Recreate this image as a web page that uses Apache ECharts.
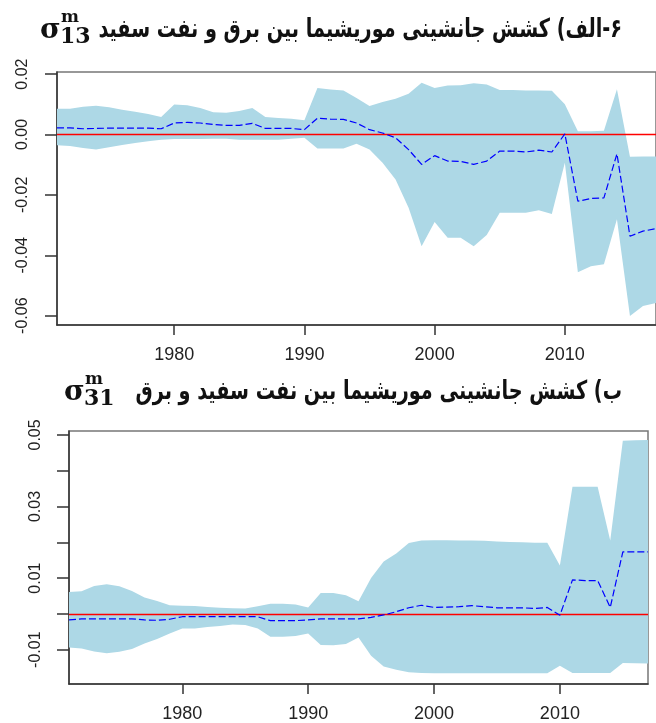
<!DOCTYPE html>
<html>
<head>
<meta charset="utf-8">
<script src="https://cdn.jsdelivr.net/npm/echarts@6/dist/echarts.min.js"></script>
<style>
html,body{margin:0;padding:0;background:#fff;}
#chart{width:656px;height:723px;}
</style>
</head>
<body>
<div id="chart"></div>
<script>
const years = [1971,1972,1973,1974,1975,1976,1977,1978,1979,1980,
  1981,1982,1983,1984,1985,1986,1987,1988,1989,1990,
  1991,1992,1993,1994,1995,1996,1997,1998,1999,2000,
  2001,2002,2003,2004,2005,2006,2007,2008,2009,2010,
  2011,2012,2013,2014,2015,2016,2017];

// Panel A: sigma13 (electricity vs kerosene)
const topUpper = [0.0085,0.0085,0.0092,0.0095,0.0090,0.0082,0.0075,0.0068,0.0058,0.0099,
  0.0097,0.0088,0.0074,0.0072,0.0078,0.0088,0.0058,0.0055,0.0052,0.0047,
  0.0154,0.0149,0.0146,0.0121,0.0094,0.0108,0.0118,0.0135,0.0171,0.0154,
  0.0162,0.0163,0.0170,0.0166,0.0147,0.0147,0.0146,0.0146,0.0145,0.0100,
  0.0011,0.0011,0.0012,0.0150,-0.0074,-0.0073,-0.0073];
const topMid = [0.0022,0.0022,0.0019,0.0020,0.0021,0.0021,0.0021,0.0021,0.0019,0.0038,
  0.0040,0.0038,0.0033,0.0030,0.0030,0.0037,0.0020,0.0020,0.0020,0.0016,
  0.0054,0.0051,0.0050,0.0038,0.0016,0.0005,-0.0011,-0.0050,-0.0099,-0.0070,
  -0.0088,-0.0089,-0.0099,-0.0088,-0.0055,-0.0055,-0.0058,-0.0052,-0.0058,0.0002,
  -0.0221,-0.0212,-0.0210,-0.0064,-0.0337,-0.0320,-0.0312];
const topLower = [-0.0036,-0.0038,-0.0045,-0.0050,-0.0042,-0.0035,-0.0028,-0.0022,-0.0017,-0.0015,
  -0.0015,-0.0015,-0.0014,-0.0014,-0.0017,-0.0017,-0.0017,-0.0017,-0.0014,-0.0011,
  -0.0046,-0.0046,-0.0046,-0.0031,-0.0050,-0.0094,-0.0149,-0.0243,-0.0370,-0.0290,
  -0.0342,-0.0342,-0.0370,-0.0333,-0.0259,-0.0259,-0.0259,-0.0251,-0.0263,-0.0094,
  -0.0456,-0.0436,-0.0430,-0.0281,-0.0601,-0.0568,-0.0558];

// Panel B: sigma31 (kerosene vs electricity)
const botUpper = [0.0061,0.0063,0.0078,0.0083,0.0077,0.0064,0.0046,0.0036,0.0024,0.0023,
  0.0022,0.0019,0.0017,0.0016,0.0015,0.0021,0.0028,0.0028,0.0026,0.0018,
  0.0058,0.0058,0.0052,0.0035,0.0100,0.0146,0.0169,0.0198,0.0205,0.0206,
  0.0206,0.0205,0.0205,0.0204,0.0202,0.0201,0.0200,0.0199,0.0199,0.0135,
  0.0355,0.0355,0.0355,0.0205,0.0484,0.0485,0.0486];
const botMid = [-0.0017,-0.0014,-0.0014,-0.0014,-0.0014,-0.0014,-0.0017,-0.0018,-0.0015,-0.0008,
  -0.0008,-0.0008,-0.0008,-0.0008,-0.0008,-0.0008,-0.0019,-0.0019,-0.0019,-0.0017,
  -0.0014,-0.0014,-0.0014,-0.0014,-0.0010,-0.0003,0.0006,0.0017,0.0024,0.0018,
  0.0019,0.0020,0.0023,0.0020,0.0017,0.0017,0.0017,0.0015,0.0018,-0.0004,
  0.0095,0.0093,0.0093,0.0018,0.0173,0.0173,0.0173];
const botLower = [-0.0094,-0.0097,-0.0105,-0.0110,-0.0106,-0.0098,-0.0083,-0.0070,-0.0055,-0.0041,
  -0.0041,-0.0037,-0.0034,-0.0030,-0.0031,-0.0041,-0.0064,-0.0064,-0.0062,-0.0055,
  -0.0087,-0.0088,-0.0084,-0.0066,-0.0117,-0.0147,-0.0156,-0.0163,-0.0165,-0.0166,
  -0.0166,-0.0166,-0.0166,-0.0166,-0.0166,-0.0166,-0.0166,-0.0166,-0.0166,-0.0145,
  -0.0165,-0.0165,-0.0165,-0.0165,-0.0137,-0.0138,-0.0139];

const xTicks = [1980, 1990, 2000, 2010];
const topYTicks = [-0.06, -0.04, -0.02, 0.00, 0.02];
const topYLabels = [-0.06, -0.04, -0.02, 0.00, 0.02];
const botYTicks = [-0.01, 0.00, 0.01, 0.02, 0.03, 0.04, 0.05];
const botYLabels = [-0.01, 0.01, 0.03, 0.05];

const titleA = '\u202B۶-الف) کشش جانشینی موریشیما بین برق و نفت سفید\u202C';
const titleB = '\u202Bب) کشش جانشینی موریشیما بین نفت سفید و برق\u202C';
const symA = ['σ', 'm', '13'];
const symB = ['σ', 'm', '31'];

const chart = echarts.init(document.getElementById('chart'), null, {renderer: 'canvas'});

function band(xi, up, lo) {
  return {
    type: 'custom', xAxisIndex: xi, yAxisIndex: xi, clip: true, silent: true, z: 1,
    data: years.map((y, i) => [y, up[i], lo[i]]),
    encode: {x: 0, y: [1, 2]},
    renderItem: function (params, api) {
      if (params.dataIndex !== 0) return null;
      const pts = [];
      for (let i = 0; i < years.length; i++) pts.push(api.coord([years[i], up[i]]));
      for (let i = years.length - 1; i >= 0; i--) pts.push(api.coord([years[i], lo[i]]));
      return {type: 'polygon', shape: {points: pts}, style: {fill: '#ADD8E6'}};
    }
  };
}
function midLine(xi, mid) {
  return {
    type: 'line', xAxisIndex: xi, yAxisIndex: xi, z: 3, silent: true,
    data: years.map((y, i) => [y, mid[i]]),
    symbol: 'none', clip: true,
    lineStyle: {color: '#0000FF', width: 1.2, type: [7, 3]},
    markLine: {
      silent: true, symbol: 'none', label: {show: false}, z: 2,
      lineStyle: {color: '#FF0000', width: 1.3, type: 'solid'},
      data: [{yAxis: 0}]
    }
  };
}
const fmt = v => v.toFixed(2);
const axisFont = {fontFamily: '"Liberation Sans", Arial, sans-serif', color: '#222'};

function xAxis(gi, max) {
  return {
    type: 'value', gridIndex: gi, min: 1971, max: max,
    splitLine: {show: false},
    axisLine: {show: true, onZero: false, lineStyle: {color: '#333', width: 1.5}},
    axisTick: {show: true, length: 10, customValues: xTicks, lineStyle: {color: '#333', width: 1.5}},
    axisLabel: Object.assign({customValues: xTicks, fontSize: 18, margin: 21, formatter: v => String(v)}, axisFont)
  };
}
function yAxis(gi, min, max, ticks, labels, margin) {
  return {
    type: 'value', gridIndex: gi, min: min, max: max,
    splitLine: {show: false},
    axisLine: {show: true, onZero: false, lineStyle: {color: '#333', width: 1.5}},
    axisTick: {show: true, length: 12, customValues: ticks, lineStyle: {color: '#333', width: 1.5}},
    axisLabel: Object.assign({customValues: labels, fontSize: 16, rotate: 90, margin: margin, formatter: fmt}, axisFont)
  };
}

function titleGraphics(title, sym, y, sigX) {
  const serif = '"DejaVu Serif", "Liberation Serif", serif';
  return [
    {type: 'text', x: 622, y: y, scaleX: 0.74, style: {text: title, font: 'bold 26px "DejaVu Sans", sans-serif', fill: '#111', align: 'right', verticalAlign: 'middle'}},
    {type: 'text', x: sigX, y: y + 1, style: {text: sym[0], font: 'bold 28px ' + serif, fill: '#111', align: 'left', verticalAlign: 'middle'}},
    {type: 'text', x: sigX + 21, y: y - 12, style: {text: sym[1], font: 'bold 17px ' + serif, fill: '#111', align: 'left', verticalAlign: 'middle'}},
    {type: 'text', x: sigX + 20, y: y + 7, style: {text: sym[2], font: 'bold 22px ' + serif, fill: '#111', align: 'left', verticalAlign: 'middle'}}
  ];
}

const option = {
  backgroundColor: '#fff',
  animation: false,
  grid: [
    {left: 57, top: 72, width: 602, height: 253, show: true, borderColor: '#777', borderWidth: 1.5, backgroundColor: 'transparent'},
    {left: 69, top: 431, width: 579, height: 256, show: true, borderColor: '#777', borderWidth: 1.5, backgroundColor: 'transparent'}
  ],
  xAxis: [xAxis(0, 2017), xAxis(1, 2017)],
  yAxis: [
    yAxis(0, -0.0631, 0.0207, topYTicks, topYLabels, 26),
    yAxis(1, -0.0196, 0.0511, botYTicks, botYLabels, 25)
  ],
  series: [
    band(0, topUpper, topLower),
    midLine(0, topMid),
    band(1, botUpper, botLower),
    midLine(1, botMid)
  ],
  graphic: titleGraphics(titleA, symA, 30, 40).concat(titleGraphics(titleB, symB, 392, 64))
};
chart.setOption(option);
</script>
</body>
</html>
